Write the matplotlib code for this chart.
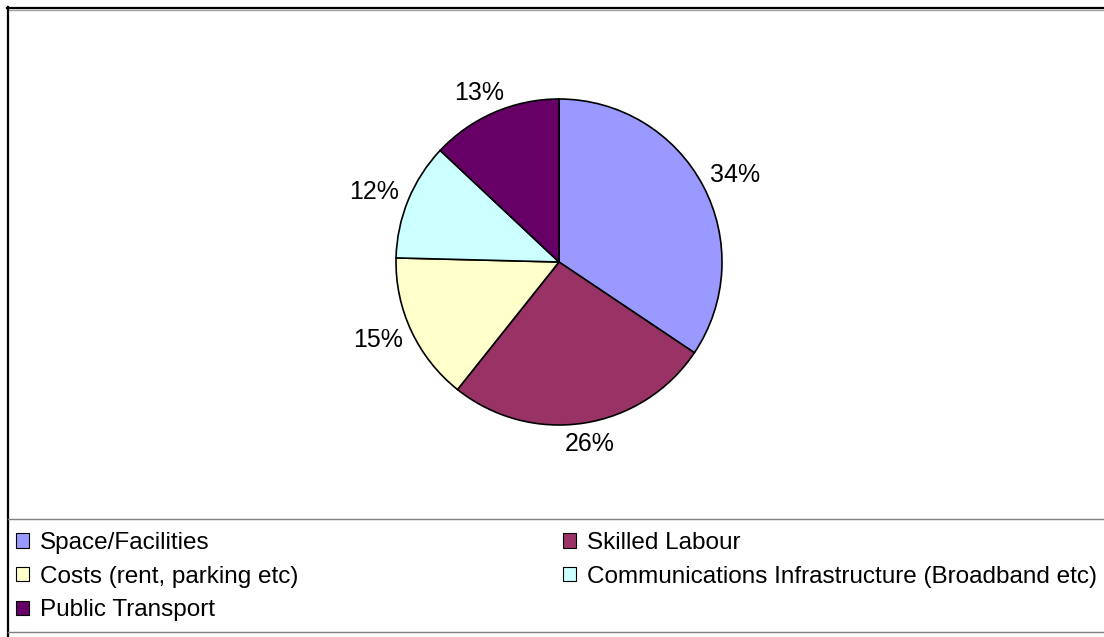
import numpy as np
import matplotlib
matplotlib.use("Agg")
import matplotlib.pyplot as plt
from matplotlib.lines import Line2D
from matplotlib.patches import Patch

plt.rcParams['font.family'] = ['Liberation Sans', 'DejaVu Sans']

# Kategoriler ve payları (%)
labels = ["Space/Facilities", "Skilled Labour", "Costs (rent, parking etc)",
          "Communications Infrastructure (Broadband etc)", "Public Transport"]
values = [34.4, 26.3, 14.7, 11.6, 13.0]
colors = ["#9999FF", "#993366", "#FFFFCC", "#CCFFFF", "#660066"]

W, H = 1104, 637
fig = plt.figure(figsize=(W / 100, H / 100), dpi=100)

# pasta grafiği: merkez (559, 262), yarıçap 163 px
cx, cy, r = 559, 262, 163
ax = fig.add_axes([(cx - r) / W, 1 - (cy + r) / H, 2 * r / W, 2 * r / H])
wedges, texts, autotexts = ax.pie(
    values, colors=colors, startangle=90, counterclock=False, radius=1,
    autopct=lambda p: f"{p:.0f}%",
    wedgeprops=dict(edgecolor="black", linewidth=1.2),
    textprops=dict(fontsize=18, color="black"))
ax.set_xlim(-1, 1)
ax.set_ylim(-1, 1)
ax.set_aspect("equal")
ax.axis("off")

# etiketleri dilimin dışına, kutusu kenara değecek şekilde koy
em = 25 / r           # 18pt yazı, veri biriminde
gap = 12 / r
for w, t in zip(wedges, autotexts):
    a = np.deg2rad((w.theta1 + w.theta2) / 2)
    ux, uy = np.cos(a), np.sin(a)
    t.set_position(((1 + gap + 1.0 * em) * ux, (1 + gap + 0.36 * em) * uy))
    t.set_ha("center")
    t.set_va("center")

# çerçeve çizgileri
def hline(y, x0, x1, **kw):
    fig.add_artist(Line2D([x0 / W, x1 / W], [1 - y / H, 1 - y / H], **kw))

def vline(x, y0, y1, **kw):
    fig.add_artist(Line2D([x / W, x / W], [1 - y0 / H, 1 - y1 / H], **kw))

hline(9.5, 7, W, color="#a0a0a0", linewidth=1)
hline(8, 7, W, color="black", linewidth=1.6)
vline(8, 7, H, color="black", linewidth=1.6)
hline(519, 8, W, color="#808080", linewidth=1)
hline(632, 8, W, color="#808080", linewidth=1)

# lejant (satır sırası için yeniden sıralama)
order = [0, 2, 4, 1, 3]
handles = [Patch(facecolor=colors[i], edgecolor="black", linewidth=0.8) for i in order]
fig.legend(handles, [labels[i] for i in order], ncol=2,
           loc="upper left", bbox_to_anchor=(16 / W, 1 - 532 / H),
           frameon=False, borderpad=0, borderaxespad=0,
           fontsize=17.5, handlelength=0.53, handleheight=0.53,
           handletextpad=0.45, labelspacing=0.48, columnspacing=10.9)

fig.savefig("out.png", dpi=100, facecolor="white")
